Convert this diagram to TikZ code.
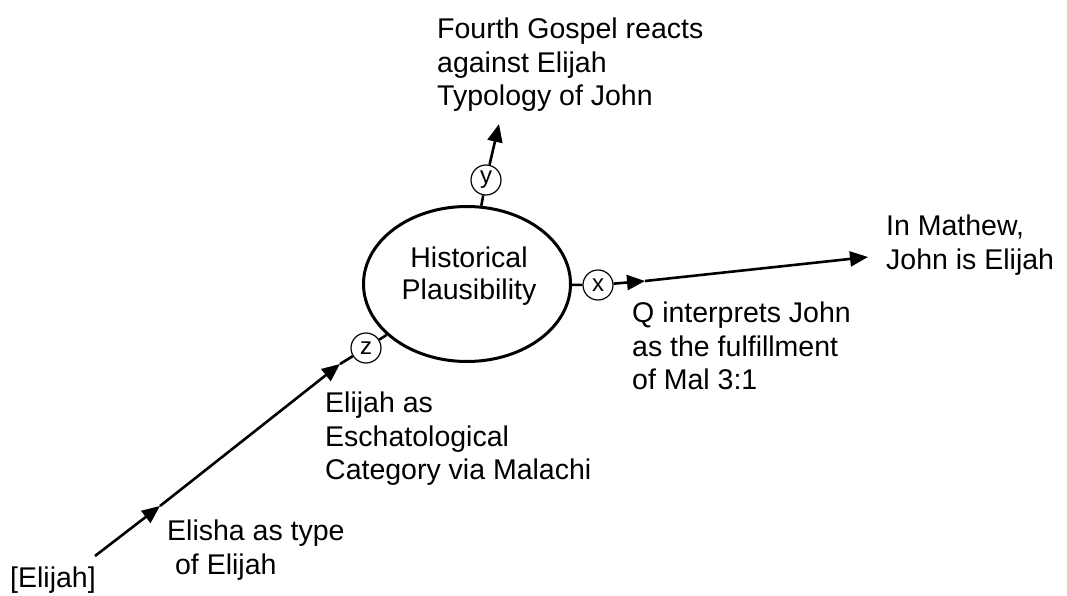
\documentclass[tikz,border=0pt]{standalone}
\usepackage{fontspec}
\setmainfont{Liberation Sans}
\usetikzlibrary{arrows.meta,shapes.geometric}
\begin{document}
\begin{tikzpicture}[x=1pt,y=-1pt,
  lbl/.style={font=\fontsize{28.5}{33.5}\selectfont, align=left, anchor=north west, inner sep=0pt},
  tag/.style={circle, draw, line width=1.2pt, minimum size=30pt, inner sep=0pt, font=\fontsize{24}{26}\selectfont},
  conn/.style={line width=2.6pt},
  arr/.style={conn, -{Triangle[length=18pt,width=15pt]}},
  hub/.style={ellipse, draw, line width=3pt, minimum width=207pt, minimum height=155pt, inner sep=0pt}
]
\useasboundingbox (0,0) rectangle (1067,596);

\node[hub] (hp) at (467,284) {};
\node[font=\fontsize{28.5}{32}\selectfont, align=center, anchor=north, inner sep=0pt] (hpt) at (469,247) {Historical\\Plausibility};

\node[tag] (cy) at (486,180) {y};
\node[tag] (cx) at (598,285) {x};
\node[tag] (cz) at (366,348) {z};

\node[lbl] (fg) at (437,18) {Fourth Gospel reacts\\against Elijah\\Typology of John};
\node[lbl] (mt) at (886,215) {In Mathew,\\John is Elijah};
\node[lbl] (qi) at (632,302) {Q interprets John\\as the fulfillment\\of Mal 3:1};
\node[lbl] (ea) at (325,392) {Elijah as\\Eschatological\\Category via Malachi};
\node[lbl] (el) at (167,520) {Elisha as type\\\ of Elijah};
\node[lbl] (ej) at (10,567) {[Elijah]};

\coordinate (ytip) at (499,124);
\coordinate (xj) at (645,281);
\coordinate (mtip) at (868,257);
\coordinate (es) at (95,556);
\coordinate (e1) at (160,506);
\coordinate (e2) at (340,364);

\draw[conn] (cy) -- (hp);
\draw[arr] (cy) -- (ytip);
\draw[conn] (hp) -- (cx);
\draw[arr] (cx) -- (xj);
\draw[arr] (xj) -- (mtip);
\draw[arr] (es) -- (e1);
\draw[arr] (e1) -- (e2);
\draw[conn] (e2) -- (cz);
\draw[conn] (cz) -- (hp);
\end{tikzpicture}
\end{document}
